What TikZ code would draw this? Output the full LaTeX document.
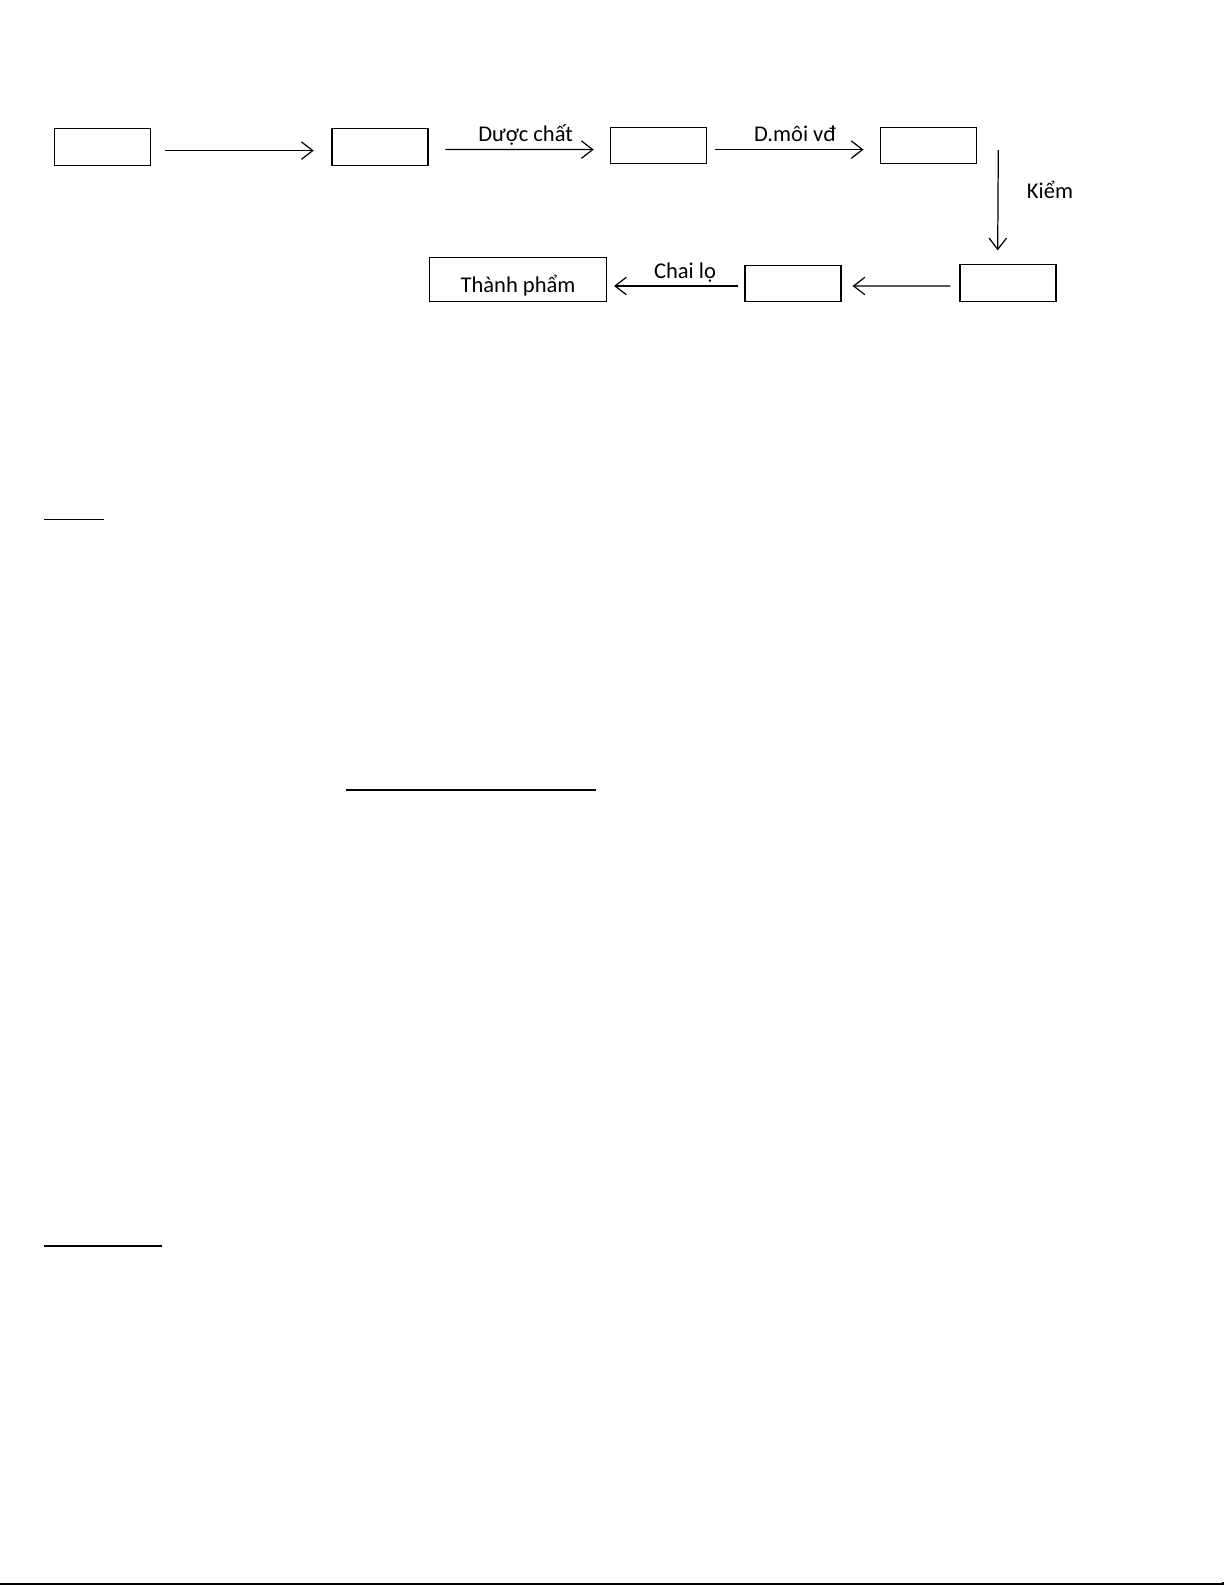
\documentclass[tikz,border=0pt]{standalone}
\usepackage{fontspec}
\setmainfont{Carlito}
\usetikzlibrary{arrows.meta}

\tikzstyle{stepbox}=[draw, line width=0.6pt, minimum width=1.647cm, minimum height=0.63cm, inner sep=0pt]
\tikzstyle{flow}=[-{Straight Barb[length=5.5pt, width=8.5pt, line width=0.6pt]}, line width=0.6pt]
\tikzstyle{lbl}=[anchor=base, inner sep=0pt]
\tikzstyle{rule}=[line width=1pt]

\begin{document}
\begin{tikzpicture}[x=0.01716cm, y=-0.01716cm, font=\fontsize{11pt}{13pt}\selectfont]
  \useasboundingbox (0,0) rectangle (1225,1585);
  % top row
  \node[stepbox] (b1) at (102.6,147.1) {};
  \node[stepbox] (b2) at (380,147.1) {};
  \node[stepbox, minimum height=0.618cm] (b3) at (658.7,145.3) {};
  \node[stepbox, minimum height=0.618cm] (b4) at (928.3,145.3) {};
  % bottom row
  \node[stepbox, minimum height=0.625cm] (b5) at (1008,283) {};
  \node[stepbox, minimum height=0.607cm] (b6) at (793,283.5) {};
  \node[stepbox, minimum width=3.037cm, minimum height=0.746cm, text height=13pt, text depth=0pt] (tp) at (518,279.5) {Thành phẩm};

  \draw[flow] ([shift={(14.1,3.5)}]b1.east) -- ([shift={(-17.7,3.5)}]b2.west);
  \draw[flow] ([shift={(16.7,2.5)}]b2.east) -- ([shift={(-16.4,4.3)}]b3.west);
  \draw[flow] ([shift={(7.9,4.3)}]b3.east) -- ([shift={(-16.2,4.3)}]b4.west);
  \draw[flow] ([shift={(21.4,4.7)}]b4.east) -- ([shift={(-10.3,-13.8)}]b5.north);
  \draw[flow] ([shift={(-9,3)}]b5.west) -- ([shift={(11,2.5)}]b6.east);
  \draw[flow] ([shift={(-6.2,2.5)}]b6.west) -- ([shift={(7,6.5)}]tp.east);

  \node[lbl] (dc) at (525.6,141.5) {Dược chất};
  \node[lbl] (dm) at (795,141.5) {D.môi vđ};
  \node[lbl] (ki) at (1050,199) {Kiểm};
  \node[lbl] (cl) at (685,278) {Chai lọ};

  % underlines
  \draw[line width=0.7pt] (44,519.3) -- (104,519.3);
  \draw[rule] (346,790) -- (596,790);
  \draw[rule] (43.5,1245.7) -- (161.7,1245.7);
  \draw[line width=0.8pt] (0,1584) -- (1223,1584) -- (1223,1581.5);
\end{tikzpicture}
\end{document}
